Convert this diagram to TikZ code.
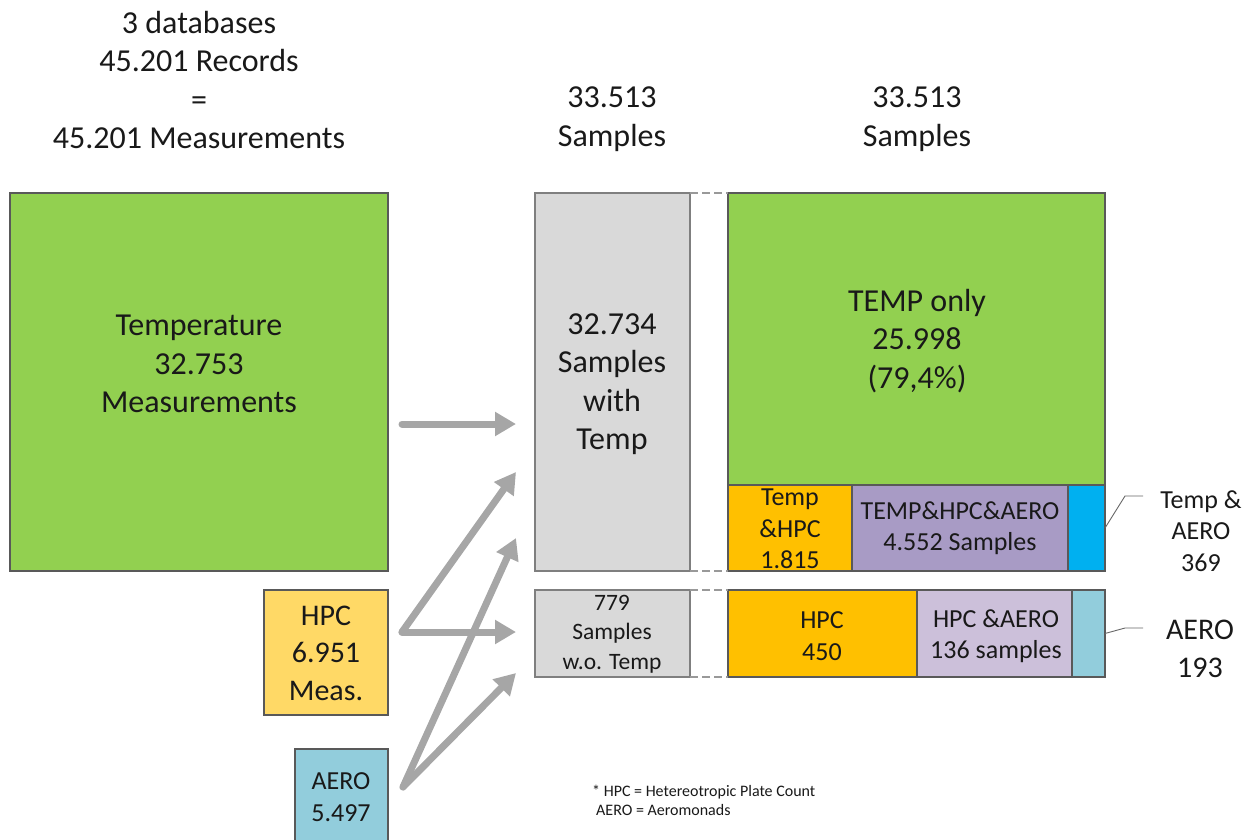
\documentclass[tikz,border=0pt]{standalone}
\usepackage{fontspec}
\setmainfont{Carlito}
\usetikzlibrary{arrows.meta}
\definecolor{tgreen}{HTML}{92D050}
\definecolor{hpcyel}{HTML}{FFD966}
\definecolor{aeroblue}{HTML}{92CDDC}
\definecolor{boxgray}{HTML}{D9D9D9}
\definecolor{borange}{HTML}{FFC000}
\definecolor{bpurple}{HTML}{A89BC5}
\definecolor{bblue}{HTML}{00B0F0}
\definecolor{lpurple}{HTML}{CCC0DA}
\definecolor{arrgray}{HTML}{A6A6A6}
\definecolor{edgegray}{HTML}{7F7F7F}
\newcommand{\fsbig}{\fontsize{32}{38.5}\selectfont}
\newcommand{\fsmid}{\fontsize{30}{37.5}\selectfont}
\newcommand{\fssm}{\fontsize{26}{31.5}\selectfont}
\newcommand{\fsxs}{\fontsize{23.5}{29.5}\selectfont}
\newcommand{\fsnote}{\fontsize{16}{19}\selectfont}
\begin{document}
\begin{tikzpicture}[x=1pt,y=-1pt,
  cell/.style={draw=#1, line width=1.2pt, anchor=north west, inner sep=0pt, outer sep=0pt},
  cell/.default=black!65,
  txt/.style={align=center, inner sep=0pt, text=black!90},
  flow/.style={draw=arrgray, line width=7pt, line cap=round, line join=round,
    -{Triangle[length=21pt,width=23pt]}},
  guide/.style={draw=edgegray!80, line width=1.3pt, dash pattern=on 8pt off 4pt},
  callout/.style={draw=black!60, line width=0.9pt}]
\useasboundingbox (0,0) rectangle (1254,839);
\clip (0,0) rectangle (1254,839);

% headings
\node[txt, font=\fsbig] (head1) at (199,80) {3 databases\\45.201 Records\\=\\45.201 Measurements};
\node[txt, font=\fsbig] (head2) at (612,119) {33.513\\Samples};
\node[txt, font=\fsbig] (head3) at (917,119) {33.513\\Samples};

% source databases
\node[cell, fill=tgreen, minimum width=378pt, minimum height=378pt] (temp) at (10,193) {};
\node[txt, font=\fsbig] (tempT) at (199,364) {Temperature\\32.753\\Measurements};
\node[cell, fill=hpcyel, minimum width=124pt, minimum height=125pt] (hpc) at (264,590) {};
\node[txt, font=\fsmid] (hpcT) at (326,653) {HPC\\6.951\\Meas.};
\node[cell, fill=aeroblue, minimum width=93pt, minimum height=100pt] (aero) at (295,749) {};
\node[txt, font=\fssm] (aeroT) at (341,797) {AERO\\5.497};

% sample groups
\node[cell=edgegray, fill=boxgray, line width=1.8pt, minimum width=155pt, minimum height=378pt] (withT) at (535,193) {};
\node[txt, font=\fsbig] (withTT) at (612,384) {32.734\\Samples\\with\\Temp};
\node[cell=edgegray, fill=boxgray, line width=1.8pt, minimum width=155pt, minimum height=87pt] (woT) at (535,590) {};
\node[txt, font=\fsxs] (woTT) at (612,634) {779\\Samples\\w.o. Temp};

% breakdown with temperature
\node[cell, fill=tgreen, minimum width=377pt, minimum height=292pt] (only) at (728,193) {};
\node[txt, font=\fsbig] (onlyT) at (917,341) {TEMP only\\25.998\\(79,4\%)};
\node[cell, fill=borange, minimum width=124pt, minimum height=86pt] (th) at (728,485) {};
\node[txt, font=\fssm] (thT) at (790,529) {Temp\\\&HPC\\1.815};
\node[cell, fill=bpurple, minimum width=216pt, minimum height=86pt] (tha) at (852,485) {};
\node[txt, font=\fssm] (thaT) at (960,528) {TEMP\&HPC\&AERO\\4.552 Samples};
\node[cell, fill=bblue, minimum width=37pt, minimum height=86pt] (ta) at (1068,485) {};

% breakdown without temperature
\node[cell, fill=borange, minimum width=189pt, minimum height=87pt] (h) at (728,590) {};
\node[txt, font=\fssm] (hT) at (822,636) {HPC\\450};
\node[cell, fill=lpurple, minimum width=155pt, minimum height=87pt] (ha) at (917,590) {};
\node[txt, font=\fssm] (haT) at (996,636) {HPC \&AERO\\136 samples};
\node[cell, fill=aeroblue, minimum width=33pt, minimum height=87pt] (a) at (1072,590) {};

% side labels with callout lines
\node[txt, font=\fssm] (taL) at (1201,531) {Temp \&\\AERO\\369};
\node[txt, font=\fsmid] (aL) at (1200,649) {AERO\\193};
\coordinate (taK) at (1125,496);
\coordinate (taE) at (1143,496);
\coordinate (aK) at (1125,628);
\coordinate (aE) at (1143,628);
\draw[callout] (ta.east) -- (taK) -- (taE);
\draw[callout] (a.east) -- (aK) -- (aE);

% dashed guides between gray columns and breakdowns
\draw[guide] (withT.north east) -- (only.north west);
\draw[guide] (withT.south east) -- (th.south west);
\draw[guide] (woT.north east) -- (h.north west);
\draw[guide] (woT.south east) -- (h.south west);

% flows
\coordinate (tOut) at (402,424);
\coordinate (hOut) at (402,632);
\coordinate (aOut) at (403,787);
\coordinate (inT1) at (516,424);
\coordinate (inT2) at (516,472);
\coordinate (inT3) at (516,538);
\coordinate (inW1) at (516,632);
\coordinate (inW2) at (516,673);
\draw[flow] (tOut) -- (inT1);
\draw[flow] (hOut) -- (inT2);
\draw[flow] (hOut) -- (inW1);
\draw[flow] (aOut) -- (inT3);
\draw[flow] (aOut) -- (inW2);

% footnote
\node[txt, font=\fsnote, align=left, anchor=north west] (note) at (592,785)
  {* HPC = Hetereotropic Plate Count\\\hspace*{4pt}AERO = Aeromonads};
\end{tikzpicture}
\end{document}
